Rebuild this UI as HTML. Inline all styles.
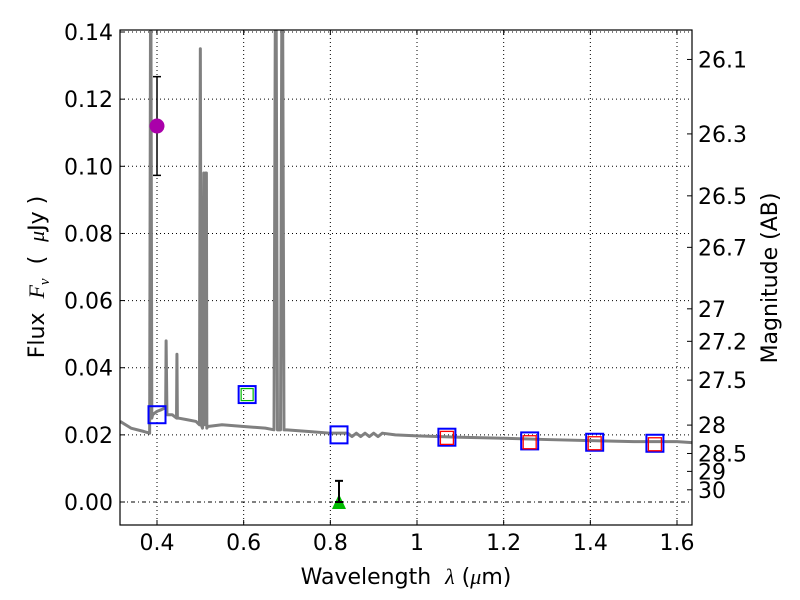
<!DOCTYPE html>
<html><head><meta charset="utf-8">
<style>
html,body{margin:0;padding:0;background:#fff;}
svg{display:block;font-family:"DejaVu Sans","Liberation Sans",sans-serif;}
text{white-space:pre;}
</style></head>
<body>
<svg id="chart" width="800" height="600" viewBox="0 0 800 600" xmlns="http://www.w3.org/2000/svg"></svg>
<script>
// ---- data ----
const specWave = [0.315,0.34,0.37,0.383,0.385,0.386,0.388,0.39,0.40,0.41,0.418,0.42,0.421,0.423,0.435,0.445,0.446,0.447,0.449,0.47,0.49,0.498,0.50,0.502,0.505,0.508,0.51,0.512,0.514,0.515,0.517,0.55,0.60,0.65,0.67,0.673,0.675,0.678,0.685,0.688,0.69,0.693,0.70,0.75,0.80,0.84,0.85,0.86,0.87,0.88,0.89,0.90,0.91,0.92,0.95,1.0,1.1,1.2,1.3,1.4,1.5,1.6,1.635];
const specFlux = [0.024,0.022,0.021,0.0205,0.145,0.145,0.025,0.026,0.027,0.0275,0.028,0.028,0.048,0.026,0.026,0.025,0.044,0.025,0.025,0.0245,0.024,0.023,0.135,0.023,0.022,0.098,0.023,0.098,0.098,0.022,0.0225,0.023,0.0225,0.022,0.0215,0.145,0.145,0.0215,0.0215,0.145,0.145,0.0215,0.0215,0.021,0.0205,0.0205,0.0195,0.0205,0.0195,0.0205,0.0195,0.0205,0.0195,0.0205,0.020,0.0197,0.0193,0.019,0.0186,0.0183,0.018,0.018,0.0177];
const photWave = [0.40,0.608,0.82,1.069,1.26,1.41,1.549];
const photFlux = [0.026,0.032,0.020,0.0193,0.0182,0.0178,0.0175];
const modelWave = [1.069,1.26,1.41,1.549];
const modelFlux = [0.0191,0.0178,0.0175,0.0172];
const greenWave = [0.608];
const greenFlux = [0.032];
const detWave = [0.40];
const detFlux = [0.112];
const detErr = [0.0147];
const limWave = [0.82];
const limFlux = [0.0];
const limErr = [0.0063];
const xTicks = [0.4,0.6,0.8,1.0,1.2,1.4,1.6];
const xTickLabels = ["0.4","0.6","0.8","1","1.2","1.4","1.6"];
const yTicks = [0,0.02,0.04,0.06,0.08,0.10,0.12,0.14];
const yTickLabels = ["0.00","0.02","0.04","0.06","0.08","0.10","0.12","0.14"];
const magTicks = [26.1,26.3,26.5,26.7,27,27.2,27.5,28,28.5,29,30];
const magTickLabels = ["26.1","26.3","26.5","26.7","27","27.2","27.5","28","28.5","29","30"];

// ---- axes ----
const L=120,R=692,T=30,B=525;
const xmin=0.3146,xmax=1.6346,ymin=-0.00685,ymax=0.1406;
const sx=v=>L+(v-xmin)/(xmax-xmin)*(R-L);
const sy=v=>B-(v-ymin)/(ymax-ymin)*(B-T);
const NS="http://www.w3.org/2000/svg";
const svg=document.getElementById('chart');
function mk(tag,attrs,parent){const e=document.createElementNS(NS,tag);for(const k in attrs)e.setAttribute(k,attrs[k]);(parent||svg).appendChild(e);return e;}

const defs=mk('defs',{});
const cp=mk('clipPath',{id:'clip'},defs);
mk('rect',{x:L,y:T,width:R-L,height:B-T},cp);

// grid
const grid=mk('g',{});


xTicks.forEach(v=>{mk('line',{x1:sx(v),x2:sx(v),y1:T,y2:B,stroke:'#000','stroke-width':1,'stroke-dasharray':'1,3'},grid);});
yTicks.forEach(v=>{mk('line',{x1:L,x2:R,y1:sy(v),y2:sy(v),stroke:'#000','stroke-width':1,'stroke-dasharray':v===0?'4,3,1,3':'1,3'},grid);});

// spectrum
const plot=mk('g',{'clip-path':'url(#clip)'});
const spec=mk('polyline',{points:specWave.map((w,i)=>sx(w)+','+sy(specFlux[i])).join(' '),fill:'none',stroke:'#808080','stroke-width':3,'stroke-linejoin':'round'},plot);



// photometry boxes
photWave.forEach((w,i)=>{
  const r=mk('rect',{x:sx(w)-8.5,y:sy(photFlux[i])-8.5,width:17,height:17,fill:'none',stroke:'#0000ff','stroke-width':2},plot);
  
  
});
modelWave.forEach((w,i)=>{
  const r=mk('rect',{x:sx(w)-6.5,y:sy(modelFlux[i])-6.5,width:13,height:13,fill:'none',stroke:'#ff0000','stroke-width':1.3},plot);
  
  
});
greenWave.forEach((w,i)=>{
  const r=mk('rect',{x:sx(w)-6,y:sy(greenFlux[i])-6,width:12,height:12,fill:'none',stroke:'#00bb00','stroke-width':1.2},plot);
  
  
});
// detection with error bar
detWave.forEach((w,i)=>{
  const g=mk('g',{},plot);
  
  
  const x=sx(w),y1=sy(detFlux[i]-detErr[i]),y2=sy(detFlux[i]+detErr[i]);
  mk('line',{x1:x,x2:x,y1:y1,y2:y2,stroke:'#000','stroke-width':1.5},g);
  mk('line',{x1:x-4,x2:x+4,y1:y1,y2:y1,stroke:'#000','stroke-width':1.5},g);
  mk('line',{x1:x-4,x2:x+4,y1:y2,y2:y2,stroke:'#000','stroke-width':1.5},g);
  mk('circle',{cx:x,cy:sy(detFlux[i]),r:7.5,fill:'#aa00aa'},g);
});
limWave.forEach((w,i)=>{
  const g=mk('g',{},plot);
  
  
  const x=sx(w),y0=sy(limFlux[i]),y2=sy(limFlux[i]+limErr[i]);
  mk('polygon',{points:`${x},${y0-8} ${x-7},${y0+7} ${x+7},${y0+7}`,fill:'#00bb00'},g);
  mk('line',{x1:x,x2:x,y1:y0,y2:y2,stroke:'#000','stroke-width':2},g);
  mk('line',{x1:x-4,x2:x+4,y1:y0,y2:y0,stroke:'#000','stroke-width':2},g);
  mk('line',{x1:x-4,x2:x+4,y1:y2,y2:y2,stroke:'#000','stroke-width':2},g);
});

// frame
const fr=mk('rect',{x:L,y:T,width:R-L,height:B-T,fill:'none',stroke:'#000','stroke-width':1.2});



const FS=22;
// x ticks
const xa=mk('g',{});


xTicks.forEach((v,i)=>{
  mk('line',{x1:sx(v),x2:sx(v),y1:B,y2:B-5,stroke:'#000'},xa);
  mk('line',{x1:sx(v),x2:sx(v),y1:T,y2:T+5,stroke:'#000'},xa);
  const t=mk('text',{x:sx(v),y:B+25,'font-size':FS,'text-anchor':'middle'},xa);t.textContent=xTickLabels[i];
});
const ya=mk('g',{});


yTicks.forEach((v,i)=>{
  mk('line',{x1:L,x2:L+5,y1:sy(v),y2:sy(v),stroke:'#000'},ya);
  const t=mk('text',{x:L-7,y:sy(v)+8,'font-size':FS,'text-anchor':'end'},ya);t.textContent=yTickLabels[i];
});
const ma=mk('g',{});


magTicks.forEach((m,i)=>{
  const f=Math.pow(10,-0.4*(m-23.9));
  mk('line',{x1:R-5,x2:R,y1:sy(f),y2:sy(f),stroke:'#000'},ma);
  const t=mk('text',{x:R+6,y:sy(f)+8,'font-size':FS},ma);t.textContent=magTickLabels[i];
});

const xt=mk('text',{x:406,y:584,'font-size':22,'text-anchor':'middle'});


xt.innerHTML='Wavelength  <tspan font-style="italic" font-family="Liberation Serif,serif">λ</tspan> (<tspan font-style="italic" font-family="Liberation Serif,serif">μ</tspan>m)';
const yt=mk('text',{x:0,y:0,'font-size':22,'text-anchor':'middle',transform:'translate(44,277) rotate(-90)'});


yt.innerHTML='Flux  <tspan font-style="italic" font-family="Liberation Serif,serif">F</tspan><tspan font-style="italic" font-family="Liberation Serif,serif" font-size="15" dy="5">ν</tspan><tspan dy="-5">  (  </tspan><tspan font-style="italic" font-family="Liberation Serif,serif">μ</tspan>Jy )';
const mt=mk('text',{x:0,y:0,'font-size':22,'text-anchor':'middle',transform:'translate(777,278) rotate(-90)'});


mt.textContent='Magnitude (AB)';
</script>
</body></html>
